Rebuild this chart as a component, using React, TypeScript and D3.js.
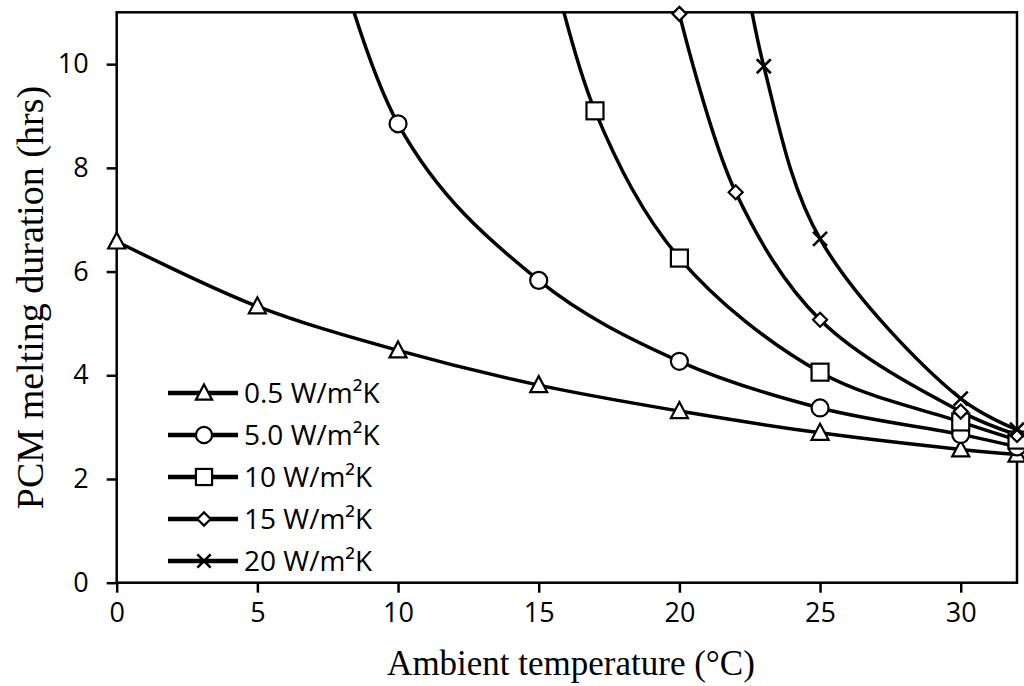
import React, { useRef, useEffect } from 'react';
import * as d3 from 'd3';

// Ambient temperature (°C) and melting duration (hrs) per heat transfer coefficient.
// Points above 11 hrs fall outside the axis; they only steer the curve into the chart.
const temps05 = [0, 5, 10, 15, 20, 25, 30, 32];
const hours05 = [6.58, 5.33, 4.48, 3.81, 3.31, 2.89, 2.57, 2.47];

const temps5 = [5, 10, 15, 20, 25, 30, 32];
const hours5 = [18.5, 8.85, 5.83, 4.27, 3.37, 2.86, 2.62];

const temps10 = [15, 17, 20, 25, 30, 32];
const hours10 = [13.0, 9.1, 6.26, 4.06, 3.1, 2.75];

const temps15 = [20, 22, 25, 30, 32];
const hours15 = [10.97, 7.53, 5.07, 3.3, 2.85];

const temps20 = [22, 23, 25, 30, 32];
const hours20 = [12.8, 9.96, 6.63, 3.55, 2.95];

const seriesLabels = ['0.5 W/m²K', '5.0 W/m²K', '10 W/m²K', '15 W/m²K', '20 W/m²K'];
const xTicks = [0, 5, 10, 15, 20, 25, 30];
const yTicks = [0, 2, 4, 6, 8, 10];

const markers = ['triangle', 'circle', 'square', 'diamond', 'cross'];

const drawMarker = (g, type, cx, cy, s = 1) => {
    const common = (el) => el.attr('fill', '#fff').attr('stroke', '#000').attr('stroke-width', 2.2);
    if (type === 'triangle') {
        common(g.append('path').attr('d', `M${cx},${cy - 9 * s}L${cx + 8.5 * s},${cy + 7 * s}L${cx - 8.5 * s},${cy + 7 * s}Z`));
    } else if (type === 'circle') {
        common(g.append('circle').attr('cx', cx).attr('cy', cy).attr('r', 8.5 * s));
    } else if (type === 'square') {
        common(g.append('rect').attr('x', cx - 8.5 * s).attr('y', cy - 8.5 * s).attr('width', 17 * s).attr('height', 17 * s));
    } else if (type === 'diamond') {
        common(g.append('path').attr('d', `M${cx},${cy - 7 * s}L${cx + 7 * s},${cy}L${cx},${cy + 7 * s}L${cx - 7 * s},${cy}Z`));
    } else if (type === 'cross') {
        g.append('path')
            .attr('d', `M${cx - 7 * s},${cy - 7 * s}L${cx + 7 * s},${cy + 7 * s}M${cx + 7 * s},${cy - 7 * s}L${cx - 7 * s},${cy + 7 * s}`)
            .attr('stroke', '#000').attr('stroke-width', 2.6).attr('fill', 'none');
    }
};

const App = () => {
    const ref = useRef(null);

    useEffect(() => {
        const svg = d3.select(ref.current);
        svg.selectAll('*').remove();

        const left = 116.7, right = 1017, top = 12.3, bottom = 582.7;
        const x = d3.scaleLinear().domain([0, 32]).range([left, right]);
        const y = d3.scaleLinear().domain([0, 11]).range([bottom, top]);

        const series = [
            d3.zip(temps05, hours05),
            d3.zip(temps5, hours5),
            d3.zip(temps10, hours10),
            d3.zip(temps15, hours15),
            d3.zip(temps20, hours20),
        ];

        svg.append('defs').append('clipPath').attr('id', 'plot-clip')
            .append('rect').attr('x', left).attr('y', top)
            .attr('width', right - left).attr('height', bottom - top);

        // Smoothed lines, like the spreadsheet's smoothed scatter
        const line = d3.line()
            .x(d => x(d[0]))
            .y(d => y(d[1]))
            .curve(d3.curveCatmullRom.alpha(0.5));

        const lines = svg.append('g').attr('clip-path', 'url(#plot-clip)');
        series.forEach(s => {
            lines.append('path')
                .attr('d', line(s))
                .attr('fill', 'none')
                .attr('stroke', '#000')
                .attr('stroke-width', 3.5);
        });

        // Frame and axes
        svg.append('rect')
            .attr('x', left).attr('y', top)
            .attr('width', right - left).attr('height', bottom - top)
            .attr('fill', 'none').attr('stroke', '#000').attr('stroke-width', 2.5);

        const xAxis = svg.append('g').attr('transform', `translate(0,${bottom})`)
            .call(d3.axisBottom(x).tickValues(xTicks).tickSize(10).tickPadding(4));
        const yAxis = svg.append('g').attr('transform', `translate(${left},0)`)
            .call(d3.axisLeft(y).tickValues(yTicks).tickSize(10).tickPadding(18));

        [xAxis, yAxis].forEach(a => {
            a.select('.domain').remove();
            a.selectAll('line').attr('stroke', '#000').attr('stroke-width', 2.5);
            a.selectAll('text')
                .attr('fill', '#000')
                .style('font-family', '"Open Sans", sans-serif')
                .style('font-size', '27px');
        });
        xAxis.selectAll('text').attr('dy', '0.95em');

        // Markers (only points inside the axis range)
        series.forEach((s, i) => {
            const g = svg.append('g');
            s.filter(d => d[1] <= 11).forEach(d => drawMarker(g, markers[i], x(d[0]), y(d[1])));
        });

        // Axis titles
        svg.append('text')
            .attr('x', 571)
            .attr('y', 675)
            .attr('text-anchor', 'middle')
            .style('font-family', '"Liberation Serif", "Times New Roman", serif')
            .style('font-size', '35px')
            .text('Ambient temperature (°C)');

        svg.append('text')
            .attr('transform', `translate(43,${(top + bottom) / 2}) rotate(-90)`)
            .attr('text-anchor', 'middle')
            .style('font-family', '"Liberation Serif", "Times New Roman", serif')
            .style('font-size', '38px')
            .text('PCM melting duration (hrs)');

        // Legend
        const legend = svg.append('g');
        seriesLabels.forEach((label, i) => {
            const ly = 393 + i * 42;
            legend.append('line')
                .attr('x1', 168).attr('x2', 238).attr('y1', ly).attr('y2', ly)
                .attr('stroke', '#000').attr('stroke-width', 4.5);
            drawMarker(legend, markers[i], 204, ly, 0.95);
            legend.append('text')
                .attr('x', 244).attr('y', ly)
                .attr('dy', '0.35em')
                .style('font-family', '"Open Sans", sans-serif')
                .style('font-size', '28px')
                .text(label);
        });
    }, []);

    return (
        <svg ref={ref} width={1024} height={686}
            style={{ position: 'absolute', left: 0, top: 0, background: '#fff' }} />
    );
};

export default App;
